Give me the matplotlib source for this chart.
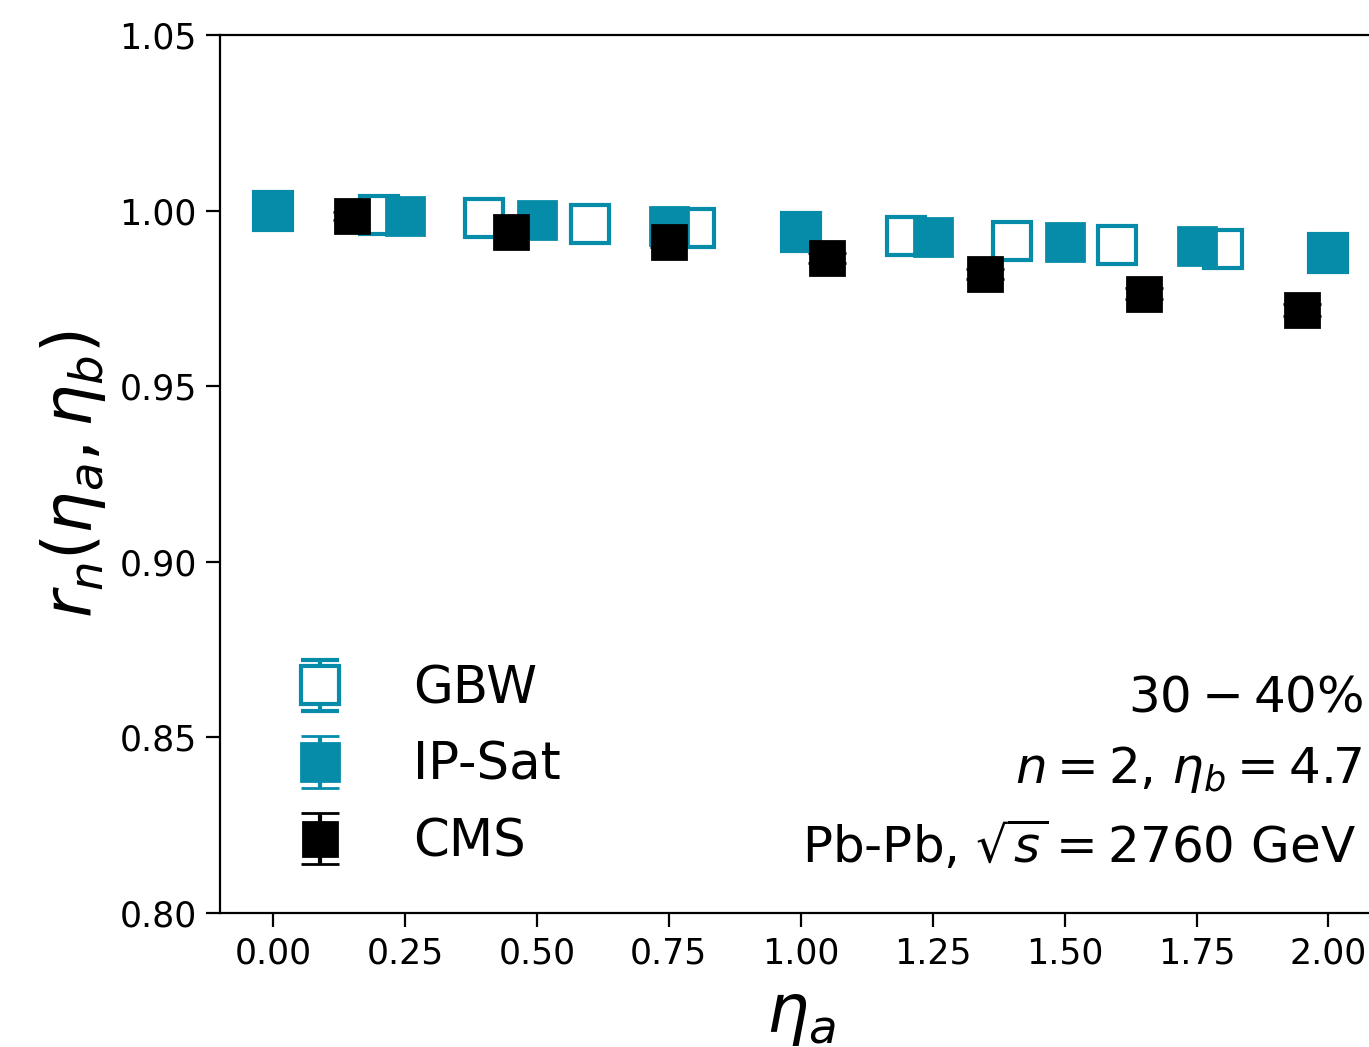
import numpy as np
import matplotlib.pyplot as plt

# eta_a values and r_n(eta_a, eta_b) for each set
eta_gbw = [0.0, 0.2, 0.4, 0.6, 0.8, 1.0, 1.2, 1.4, 1.6, 1.8, 2.0]
r_gbw = [1.000, 0.9987, 0.9979, 0.9962, 0.9950, 0.9940, 0.9928, 0.9913, 0.9902, 0.9890, 0.9880]
err_gbw = [0.0] * len(eta_gbw)

eta_ipsat = [0.0, 0.25, 0.5, 0.75, 1.0, 1.25, 1.5, 1.75, 2.0]
r_ipsat = [1.000, 0.9986, 0.9972, 0.9955, 0.9941, 0.9926, 0.9912, 0.9898, 0.9882]
err_ipsat = [0.0] * len(eta_ipsat)

eta_cms = [0.15, 0.45, 0.75, 1.05, 1.35, 1.65, 1.95]
r_cms = [0.9985, 0.9939, 0.9910, 0.9865, 0.9820, 0.9763, 0.9717]
err_cms = [0.0012, 0.0012, 0.0013, 0.0015, 0.0015, 0.0016, 0.0016]

teal = '#068ca8'

fig = plt.figure(figsize=(6.845, 5.235), dpi=200)
ax = fig.add_axes([220.25 / 1369, 134 / 1047, 1161 / 1369, 878 / 1047])

ax.errorbar(eta_gbw, r_gbw, yerr=err_gbw, fmt='s', ms=14, mfc='white', mec=teal,
            mew=1.5, ecolor=teal, capsize=7, label='GBW')
ax.errorbar(eta_ipsat, r_ipsat, yerr=err_ipsat, fmt='s', ms=14, color=teal,
            ecolor=teal, capsize=7, label='IP-Sat')
ax.errorbar(eta_cms, r_cms, yerr=err_cms, fmt='s', ms=12, color='black',
            ecolor='black', capsize=7, label='CMS')

ax.set_xlim(-0.1, 2.1)
ax.set_ylim(0.80, 1.05)
ax.set_xticks(np.arange(0, 2.01, 0.25))
ax.set_yticks(np.arange(0.80, 1.051, 0.05))
ax.set_xticklabels(['%.2f' % t for t in np.arange(0, 2.01, 0.25)])
ax.set_yticklabels(['%.2f' % t for t in np.arange(0.80, 1.051, 0.05)])
ax.tick_params(labelsize=12.5, length=5)

ax.set_xlabel(r'$\eta_a$', fontsize=24)
ax.set_ylabel(r'$r_n(\eta_a, \eta_b)$', fontsize=24)

ax.legend(loc='lower left', bbox_to_anchor=(0.002, -0.001), frameon=False,
          fontsize=18.5, handlelength=2.0, handletextpad=0.8, labelspacing=0.52)

ax.text(0.985, 0.245, r'$30-40\%$', transform=ax.transAxes, ha='right', va='center', fontsize=18)
ax.text(0.983, 0.163, r'$n=2$, $\eta_b=4.7$', transform=ax.transAxes, ha='right', va='center', fontsize=18)
ax.text(0.978, 0.077, r'Pb-Pb, $\sqrt{s}=2760$ GeV', transform=ax.transAxes, ha='right', va='center', fontsize=18)

fig.savefig('out.png', dpi=200)
